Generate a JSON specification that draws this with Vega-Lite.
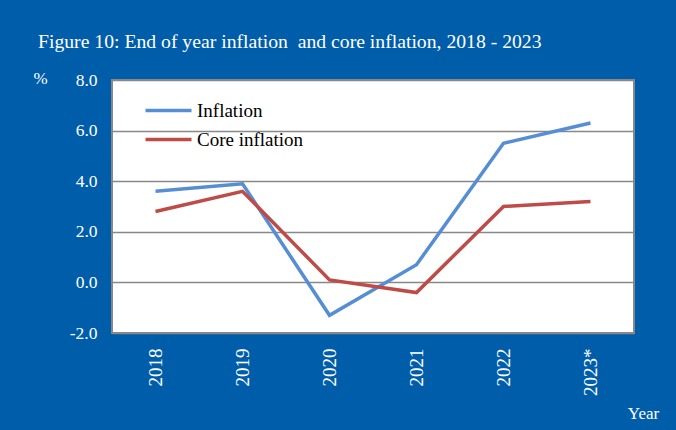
{
  "$schema": "https://vega.github.io/schema/vega-lite/v6.json",
  "width": 522,
  "height": 253,
  "autosize": {"type": "none"},
  "padding": {"left": 112, "top": 80, "right": 42, "bottom": 97},
  "background": "#005DA9",
  "title": {
    "text": "Figure 10: End of year inflation \u00a0and core inflation, 2018 - 2023",
    "anchor": "start",
    "frame": "group",
    "dx": -74,
    "dy": 3,
    "offset": 4,
    "baseline": "alphabetic",
    "font": "Liberation Serif",
    "fontSize": 19.7,
    "fontWeight": "normal",
    "color": "white"
  },
  "data": {
    "values": [
      {"year": "2018", "series": "Inflation", "value": 3.6},
      {"year": "2019", "series": "Inflation", "value": 3.9},
      {"year": "2020", "series": "Inflation", "value": -1.3},
      {"year": "2021", "series": "Inflation", "value": 0.7},
      {"year": "2022", "series": "Inflation", "value": 5.5},
      {"year": "2023*", "series": "Inflation", "value": 6.3},
      {"year": "2018", "series": "Core inflation", "value": 2.8},
      {"year": "2019", "series": "Core inflation", "value": 3.6},
      {"year": "2020", "series": "Core inflation", "value": 0.1},
      {"year": "2021", "series": "Core inflation", "value": -0.4},
      {"year": "2022", "series": "Core inflation", "value": 3.0},
      {"year": "2023*", "series": "Core inflation", "value": 3.2}
    ]
  },
  "mark": {"type": "line", "strokeWidth": 3.5},
  "encoding": {
    "x": {
      "field": "year",
      "type": "ordinal",
      "sort": null,
      "scale": {"padding": 0.5},
      "axis": {
        "title": "Year",
        "titleX": 531,
        "titleY": 80,
        "titleAlign": "center",
        "titleBaseline": "middle",
        "titleFont": "Liberation Serif",
        "titleFontSize": 17,
        "titleFontWeight": "normal",
        "titleColor": "white",
        "labelAngle": -90,
        "labelFont": "Liberation Serif",
        "labelFontSize": 19,
        "labelColor": "white",
        "labelPadding": 15,
        "domain": false,
        "ticks": false,
        "grid": false
      }
    },
    "y": {
      "field": "value",
      "type": "quantitative",
      "scale": {"domain": [-2, 8], "nice": false, "zero": false},
      "axis": {
        "title": "%",
        "titleAngle": 0,
        "titleX": -72,
        "titleY": -2,
        "titleAlign": "center",
        "titleBaseline": "middle",
        "titleFont": "Liberation Serif",
        "titleFontSize": 17,
        "titleFontWeight": "normal",
        "titleColor": "white",
        "values": [-2, 0, 2, 4, 6, 8],
        "labelExpr": "replace(format(datum.value, '.1f'), '\u2212', '-')",
        "labelFont": "Liberation Serif",
        "labelFontSize": 17.5,
        "labelColor": "white",
        "labelPadding": 15,
        "domain": false,
        "ticks": false,
        "grid": true,
        "gridColor": "#888888",
        "gridWidth": 1.5
      }
    },
    "color": {
      "field": "series",
      "type": "nominal",
      "sort": ["Inflation", "Core inflation"],
      "scale": {"domain": ["Inflation", "Core inflation"], "range": ["#558ED5", "#BE4B48"]},
      "legend": {
        "title": null,
        "orient": "none",
        "legendX": 43,
        "legendY": 17,
        "symbolType": "M-2,0H2",
        "symbolSize": 529,
        "symbolStrokeWidth": 3.5,
        "symbolFillColor": "transparent",
        "labelFont": "Liberation Serif",
        "labelFontSize": 19,
        "labelColor": "black",
        "labelOffset": 15,
        "rowPadding": 5
      }
    }
  },
  "config": {
    "view": {"fill": "white", "stroke": "#888888", "strokeWidth": 2}
  }
}
